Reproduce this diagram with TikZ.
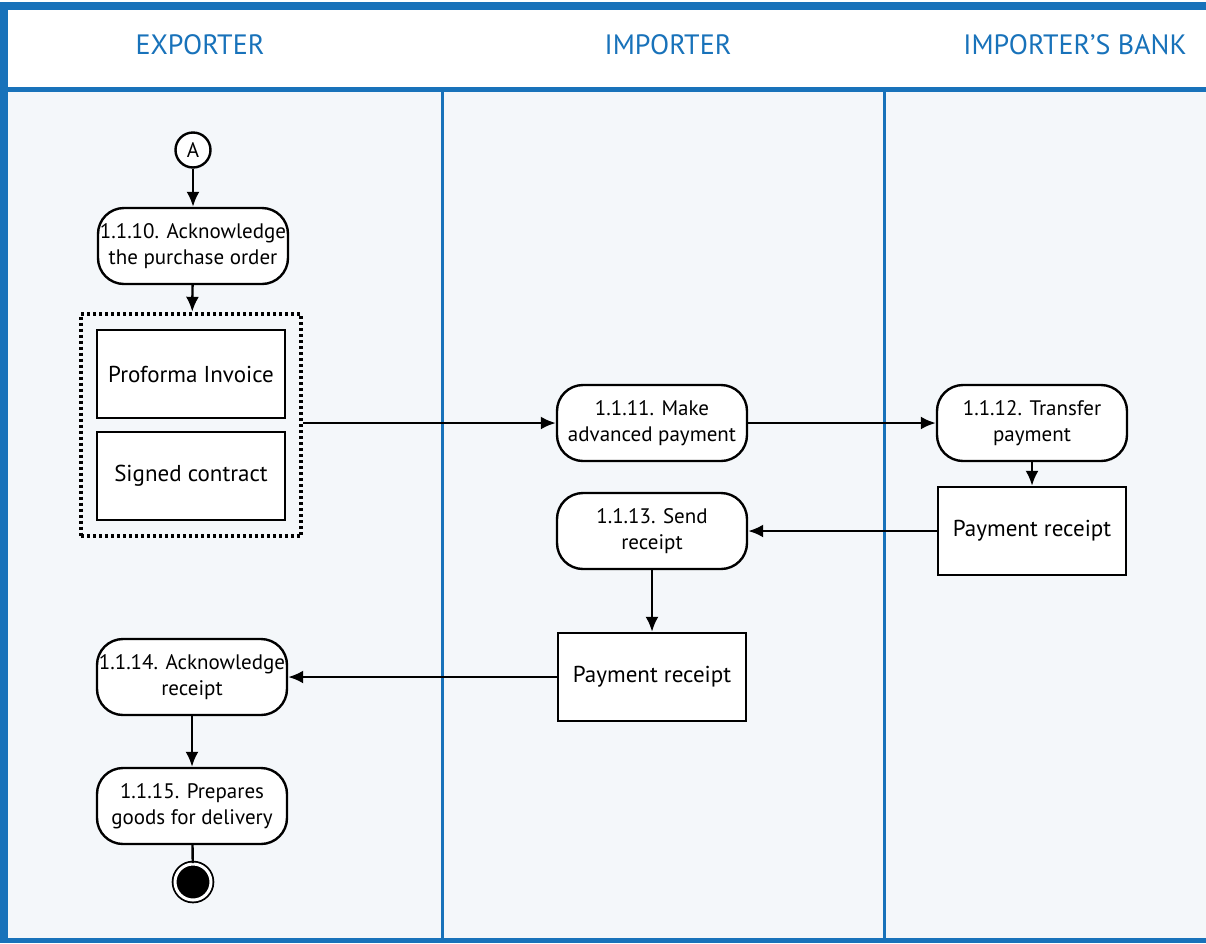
\documentclass[tikz,border=0pt]{standalone}
\usepackage{fontspec}
\setmainfont{PT Sans}
\usepackage{tikz}
\usetikzlibrary{positioning,arrows.meta,fit,backgrounds}

\definecolor{laneblue}{RGB}{24,114,186}
\definecolor{lanefill}{RGB}{244,247,250}

\begin{document}
\begin{tikzpicture}[x=1pt, y=-1pt,
  act/.style={draw, fill=white, rounded corners=26pt, line width=2.4pt,
              minimum width=190pt, minimum height=76pt, align=center,
              inner xsep=0pt, inner ysep=2pt, font=\fontsize{21}{26}\selectfont},
  doc/.style={draw, fill=white, line width=2.4pt, minimum width=188pt,
              minimum height=88pt, align=center, font=\fontsize{23}{26}\selectfont},
  flow/.style={-{Latex[length=15pt,width=13pt]}, line width=2.4pt},
  lanetitle/.style={font=\fontsize{28}{32}\selectfont, text=laneblue},
  lanerule/.style={laneblue, line width=3pt},
]
\useasboundingbox (0,0) rectangle (1206,943);

% ================= swimlane frame =================
\fill[lanefill] (0,90) rectangle (1206,943);
\fill[white] (0,8) rectangle (1206,90);
\fill[laneblue] (0,2) rectangle (1206,10);
\fill[laneblue] (0,2) rectangle (8,943);
\fill[laneblue] (0,87) rectangle (1206,92);
\fill[laneblue] (0,938) rectangle (1206,943);
\foreach \x in {442,884}
  \draw[lanerule] (\x,90) -- (\x,940);

\node[lanetitle] (hexp) at (200,45)  {EXPORTER};
\node[lanetitle] (himp) at (668,45)  {IMPORTER};
\node[lanetitle] (hbnk) at (1075,45) {IMPORTER'S BANK};

% ================= exporter lane =================
\node[draw, circle, fill=white, line width=2.4pt, minimum size=35pt,
      inner sep=0pt, font=\fontsize{21}{24}\selectfont] (start) at (193,150) {A};
\node[act] (a10) at (193,246) {1.1.10. Acknowledge\\the purchase order};
\node[doc] (proforma) at (191,374) {Proforma Invoice};
\node[doc] (contract) at (191,476) {Signed contract};
\node[draw, line width=4pt, dash pattern=on 3pt off 3pt, inner sep=15pt,
      fit=(proforma)(contract)] (docset) {};
\node[act] (a14) at (192,677) {1.1.14. Acknowledge\\receipt};
\node[act] (a15) at (192,806) {1.1.15. Prepares\\goods for delivery};
\node[circle, fill=black, draw=black, line width=1.8pt, double=white,
      double distance=3pt, minimum size=36pt, inner sep=0pt] (stop) at (193,882) {};

% ================= importer lane =================
\node[act] (a11) at (652,423) {1.1.11. Make\\advanced payment};
\node[act] (a13) at (652,531) {1.1.13. Send\\receipt};
\node[doc] (receipt2) at (652,677) {Payment receipt};

% ================= importer's bank lane =================
\node[act] (a12) at (1032,423) {1.1.12. Transfer\\payment};
\node[doc] (receipt1) at (1032,531) {Payment receipt};

% ================= flows =================
\draw[flow] (start) -- (a10);
\draw[flow] (a10) -- (docset);
\draw[flow] (docset.east |- a11) -- (a11);
\draw[flow] (a11) -- (a12);
\draw[flow] (a12) -- (receipt1);
\draw[flow] (receipt1) -- (a13);
\draw[flow] (a13) -- (receipt2);
\draw[flow] (receipt2) -- (a14);
\draw[flow] (a14) -- (a15);
\draw[line width=2.4pt] (a15) -- (stop);

\end{tikzpicture}
\end{document}
